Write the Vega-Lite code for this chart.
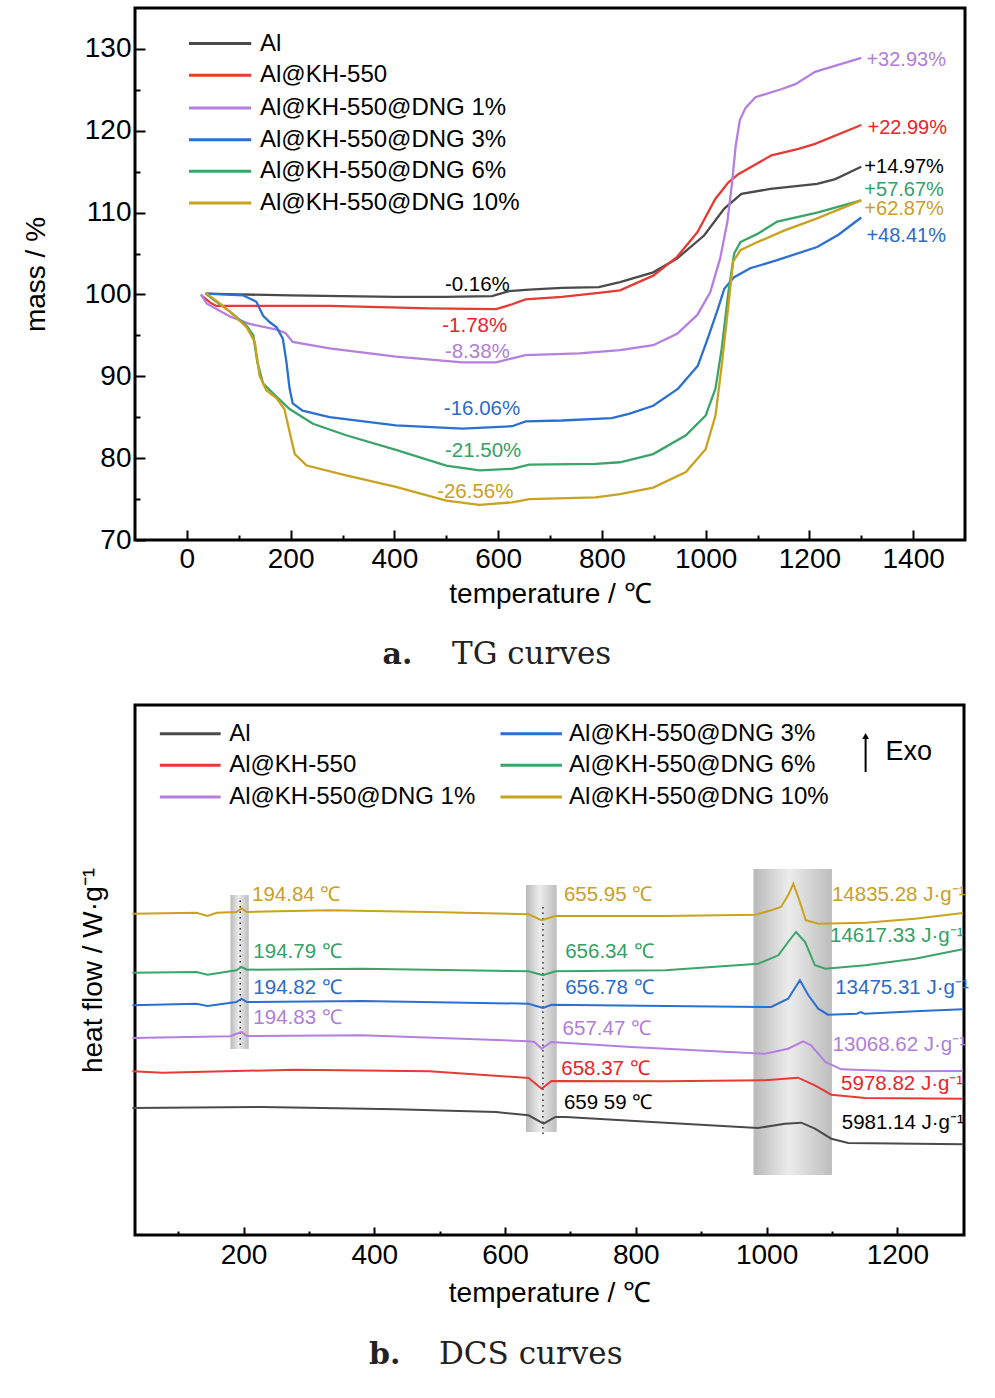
{
"$schema": "https://vega.github.io/schema/vega-lite/v6.json",
"autosize": {"type": "pad"},
"padding": {"left": 20, "top": 6, "right": 0, "bottom": 0},
"spacing": 165,
"bounds": "flush",
"config": {
  "view": {"stroke": "#000000", "strokeWidth": 3},
  "font": "Liberation Sans",
  "axis": {"domain": false, "grid": false, "tickColor": "#000000", "tickWidth": 2, "labelColor": "#000000", "titleColor": "#000000", "labelFont": "Liberation Sans", "titleFont": "Liberation Sans", "labelFontSize": 28, "titleFontSize": 28, "titleFontWeight": "normal", "labelOverlap": false, "labelFlush": false, "format": "d"}
},
"datasets": {
  "tg": [
    {"s":"Al","t":36,"m":100.1},{"s":"Al","t":100,"m":100.0},{"s":"Al","t":200,"m":99.9},{"s":"Al","t":300,"m":99.8},{"s":"Al","t":400,"m":99.7},{"s":"Al","t":500,"m":99.7},{"s":"Al","t":588,"m":99.8},{"s":"Al","t":621,"m":100.4},{"s":"Al","t":660,"m":100.6},{"s":"Al","t":723,"m":100.8},{"s":"Al","t":794,"m":100.9},{"s":"Al","t":835,"m":101.5},{"s":"Al","t":899,"m":102.7},{"s":"Al","t":945,"m":104.4},{"s":"Al","t":997,"m":107.2},{"s":"Al","t":1036,"m":110.5},{"s":"Al","t":1069,"m":112.3},{"s":"Al","t":1125,"m":112.9},{"s":"Al","t":1215,"m":113.5},{"s":"Al","t":1250,"m":114.1},{"s":"Al","t":1300,"m":115.6},
    {"s":"Al@KH-550","t":28,"m":99.9},{"s":"Al@KH-550","t":45,"m":99.0},{"s":"Al@KH-550","t":57,"m":98.6},{"s":"Al@KH-550","t":150,"m":98.6},{"s":"Al@KH-550","t":275,"m":98.6},{"s":"Al@KH-550","t":467,"m":98.3},{"s":"Al@KH-550","t":596,"m":98.2},{"s":"Al@KH-550","t":627,"m":98.8},{"s":"Al@KH-550","t":653,"m":99.4},{"s":"Al@KH-550","t":723,"m":99.7},{"s":"Al@KH-550","t":794,"m":100.2},{"s":"Al@KH-550","t":835,"m":100.5},{"s":"Al@KH-550","t":899,"m":102.3},{"s":"Al@KH-550","t":945,"m":104.6},{"s":"Al@KH-550","t":984,"m":107.6},{"s":"Al@KH-550","t":1019,"m":111.7},{"s":"Al@KH-550","t":1044,"m":113.7},{"s":"Al@KH-550","t":1063,"m":114.7},{"s":"Al@KH-550","t":1127,"m":117.0},{"s":"Al@KH-550","t":1179,"m":117.8},{"s":"Al@KH-550","t":1211,"m":118.4},{"s":"Al@KH-550","t":1300,"m":120.7},
    {"s":"Al@KH-550@DNG 1%","t":27,"m":100.0},{"s":"Al@KH-550@DNG 1%","t":38,"m":98.9},{"s":"Al@KH-550@DNG 1%","t":83,"m":97.3},{"s":"Al@KH-550@DNG 1%","t":121,"m":96.4},{"s":"Al@KH-550@DNG 1%","t":173,"m":95.7},{"s":"Al@KH-550@DNG 1%","t":190,"m":95.3},{"s":"Al@KH-550@DNG 1%","t":204,"m":94.2},{"s":"Al@KH-550@DNG 1%","t":275,"m":93.4},{"s":"Al@KH-550@DNG 1%","t":403,"m":92.4},{"s":"Al@KH-550@DNG 1%","t":531,"m":91.7},{"s":"Al@KH-550@DNG 1%","t":596,"m":91.7},{"s":"Al@KH-550@DNG 1%","t":627,"m":92.2},{"s":"Al@KH-550@DNG 1%","t":653,"m":92.6},{"s":"Al@KH-550@DNG 1%","t":756,"m":92.8},{"s":"Al@KH-550@DNG 1%","t":835,"m":93.2},{"s":"Al@KH-550@DNG 1%","t":899,"m":93.8},{"s":"Al@KH-550@DNG 1%","t":945,"m":95.2},{"s":"Al@KH-550@DNG 1%","t":984,"m":97.5},{"s":"Al@KH-550@DNG 1%","t":1009,"m":100.3},{"s":"Al@KH-550@DNG 1%","t":1028,"m":104.4},{"s":"Al@KH-550@DNG 1%","t":1042,"m":108.9},{"s":"Al@KH-550@DNG 1%","t":1051,"m":113.7},{"s":"Al@KH-550@DNG 1%","t":1058,"m":118.2},{"s":"Al@KH-550@DNG 1%","t":1066,"m":121.3},{"s":"Al@KH-550@DNG 1%","t":1077,"m":122.8},{"s":"Al@KH-550@DNG 1%","t":1096,"m":124.1},{"s":"Al@KH-550@DNG 1%","t":1147,"m":125.1},{"s":"Al@KH-550@DNG 1%","t":1173,"m":125.7},{"s":"Al@KH-550@DNG 1%","t":1211,"m":127.2},{"s":"Al@KH-550@DNG 1%","t":1300,"m":128.9},
    {"s":"Al@KH-550@DNG 3%","t":36,"m":100.1},{"s":"Al@KH-550@DNG 3%","t":108,"m":99.9},{"s":"Al@KH-550@DNG 3%","t":134,"m":99.1},{"s":"Al@KH-550@DNG 3%","t":147,"m":97.4},{"s":"Al@KH-550@DNG 3%","t":160,"m":96.6},{"s":"Al@KH-550@DNG 3%","t":173,"m":96.0},{"s":"Al@KH-550@DNG 3%","t":185,"m":94.6},{"s":"Al@KH-550@DNG 3%","t":192,"m":91.7},{"s":"Al@KH-550@DNG 3%","t":198,"m":88.5},{"s":"Al@KH-550@DNG 3%","t":204,"m":86.7},{"s":"Al@KH-550@DNG 3%","t":223,"m":85.8},{"s":"Al@KH-550@DNG 3%","t":275,"m":85.0},{"s":"Al@KH-550@DNG 3%","t":403,"m":84.0},{"s":"Al@KH-550@DNG 3%","t":531,"m":83.6},{"s":"Al@KH-550@DNG 3%","t":627,"m":83.9},{"s":"Al@KH-550@DNG 3%","t":653,"m":84.5},{"s":"Al@KH-550@DNG 3%","t":723,"m":84.6},{"s":"Al@KH-550@DNG 3%","t":819,"m":84.9},{"s":"Al@KH-550@DNG 3%","t":852,"m":85.4},{"s":"Al@KH-550@DNG 3%","t":899,"m":86.4},{"s":"Al@KH-550@DNG 3%","t":947,"m":88.5},{"s":"Al@KH-550@DNG 3%","t":985,"m":91.3},{"s":"Al@KH-550@DNG 3%","t":1004,"m":94.6},{"s":"Al@KH-550@DNG 3%","t":1024,"m":98.3},{"s":"Al@KH-550@DNG 3%","t":1036,"m":100.7},{"s":"Al@KH-550@DNG 3%","t":1055,"m":102.1},{"s":"Al@KH-550@DNG 3%","t":1086,"m":103.2},{"s":"Al@KH-550@DNG 3%","t":1138,"m":104.2},{"s":"Al@KH-550@DNG 3%","t":1215,"m":105.8},{"s":"Al@KH-550@DNG 3%","t":1256,"m":107.3},{"s":"Al@KH-550@DNG 3%","t":1300,"m":109.4},
    {"s":"Al@KH-550@DNG 6%","t":36,"m":100.1},{"s":"Al@KH-550@DNG 6%","t":57,"m":99.1},{"s":"Al@KH-550@DNG 6%","t":83,"m":97.9},{"s":"Al@KH-550@DNG 6%","t":115,"m":96.2},{"s":"Al@KH-550@DNG 6%","t":128,"m":95.0},{"s":"Al@KH-550@DNG 6%","t":136,"m":91.7},{"s":"Al@KH-550@DNG 6%","t":147,"m":89.1},{"s":"Al@KH-550@DNG 6%","t":173,"m":87.5},{"s":"Al@KH-550@DNG 6%","t":198,"m":86.0},{"s":"Al@KH-550@DNG 6%","t":243,"m":84.2},{"s":"Al@KH-550@DNG 6%","t":307,"m":82.8},{"s":"Al@KH-550@DNG 6%","t":403,"m":81.0},{"s":"Al@KH-550@DNG 6%","t":500,"m":79.1},{"s":"Al@KH-550@DNG 6%","t":564,"m":78.5},{"s":"Al@KH-550@DNG 6%","t":627,"m":78.7},{"s":"Al@KH-550@DNG 6%","t":660,"m":79.2},{"s":"Al@KH-550@DNG 6%","t":788,"m":79.3},{"s":"Al@KH-550@DNG 6%","t":835,"m":79.5},{"s":"Al@KH-550@DNG 6%","t":899,"m":80.5},{"s":"Al@KH-550@DNG 6%","t":962,"m":82.8},{"s":"Al@KH-550@DNG 6%","t":1000,"m":85.2},{"s":"Al@KH-550@DNG 6%","t":1019,"m":88.5},{"s":"Al@KH-550@DNG 6%","t":1031,"m":93.4},{"s":"Al@KH-550@DNG 6%","t":1044,"m":100.3},{"s":"Al@KH-550@DNG 6%","t":1055,"m":105.0},{"s":"Al@KH-550@DNG 6%","t":1067,"m":106.4},{"s":"Al@KH-550@DNG 6%","t":1100,"m":107.4},{"s":"Al@KH-550@DNG 6%","t":1138,"m":108.9},{"s":"Al@KH-550@DNG 6%","t":1215,"m":110.0},{"s":"Al@KH-550@DNG 6%","t":1300,"m":111.5},
    {"s":"Al@KH-550@DNG 10%","t":36,"m":100.2},{"s":"Al@KH-550@DNG 10%","t":57,"m":99.2},{"s":"Al@KH-550@DNG 10%","t":83,"m":97.9},{"s":"Al@KH-550@DNG 10%","t":115,"m":96.0},{"s":"Al@KH-550@DNG 10%","t":131,"m":94.2},{"s":"Al@KH-550@DNG 10%","t":140,"m":90.1},{"s":"Al@KH-550@DNG 10%","t":153,"m":88.3},{"s":"Al@KH-550@DNG 10%","t":173,"m":87.3},{"s":"Al@KH-550@DNG 10%","t":188,"m":86.0},{"s":"Al@KH-550@DNG 10%","t":198,"m":83.2},{"s":"Al@KH-550@DNG 10%","t":208,"m":80.5},{"s":"Al@KH-550@DNG 10%","t":231,"m":79.1},{"s":"Al@KH-550@DNG 10%","t":307,"m":77.9},{"s":"Al@KH-550@DNG 10%","t":403,"m":76.5},{"s":"Al@KH-550@DNG 10%","t":500,"m":74.8},{"s":"Al@KH-550@DNG 10%","t":564,"m":74.3},{"s":"Al@KH-550@DNG 10%","t":627,"m":74.6},{"s":"Al@KH-550@DNG 10%","t":660,"m":75.0},{"s":"Al@KH-550@DNG 10%","t":788,"m":75.2},{"s":"Al@KH-550@DNG 10%","t":835,"m":75.6},{"s":"Al@KH-550@DNG 10%","t":899,"m":76.4},{"s":"Al@KH-550@DNG 10%","t":962,"m":78.3},{"s":"Al@KH-550@DNG 10%","t":1000,"m":81.1},{"s":"Al@KH-550@DNG 10%","t":1019,"m":85.2},{"s":"Al@KH-550@DNG 10%","t":1031,"m":91.3},{"s":"Al@KH-550@DNG 10%","t":1044,"m":98.7},{"s":"Al@KH-550@DNG 10%","t":1053,"m":104.0},{"s":"Al@KH-550@DNG 10%","t":1067,"m":105.4},{"s":"Al@KH-550@DNG 10%","t":1100,"m":106.4},{"s":"Al@KH-550@DNG 10%","t":1151,"m":107.8},{"s":"Al@KH-550@DNG 10%","t":1215,"m":109.3},{"s":"Al@KH-550@DNG 10%","t":1300,"m":111.5}
  ],
  "tgLeg": [
    {"s":"Al","t1":4,"t2":124,"tx":141,"m":130.65},
    {"s":"Al@KH-550","t1":4,"t2":124,"tx":141,"m":126.78},
    {"s":"Al@KH-550@DNG 1%","t1":4,"t2":124,"tx":141,"m":122.79},
    {"s":"Al@KH-550@DNG 3%","t1":4,"t2":124,"tx":141,"m":118.9},
    {"s":"Al@KH-550@DNG 6%","t1":4,"t2":124,"tx":141,"m":115.05},
    {"s":"Al@KH-550@DNG 10%","t1":4,"t2":124,"tx":141,"m":111.17}
  ],
  "tgLab": [
    {"s":"Al","label":"-0.16%","pos":"mid","t":560,"m":101.1},
    {"s":"Al@KH-550","label":"-1.78%","pos":"mid","t":555,"m":96.2},
    {"s":"Al@KH-550@DNG 1%","label":"-8.38%","pos":"mid","t":560,"m":93.0},
    {"s":"Al@KH-550@DNG 3%","label":"-16.06%","pos":"mid","t":569,"m":86.0},
    {"s":"Al@KH-550@DNG 6%","label":"-21.50%","pos":"mid","t":571,"m":80.9},
    {"s":"Al@KH-550@DNG 10%","label":"-26.56%","pos":"mid","t":556,"m":75.9},
    {"s":"Al@KH-550@DNG 1%","label":"+32.93%","pos":"end","t":1310,"m":128.6},
    {"s":"Al@KH-550","label":"+22.99%","pos":"end","t":1312,"m":120.3},
    {"s":"Al","label":"+14.97%","pos":"end","t":1306,"m":115.6},
    {"s":"Al@KH-550@DNG 6%","label":"+57.67%","pos":"end","t":1306,"m":112.8},
    {"s":"Al@KH-550@DNG 10%","label":"+62.87%","pos":"end","t":1306,"m":110.4},
    {"s":"Al@KH-550@DNG 3%","label":"+48.41%","pos":"end","t":1310,"m":107.2}
  ],
  "capA": [
    {"label":"a.","kind":"tag","t":406,"m":55.9},
    {"label":"TG curves","kind":"name","t":511,"m":55.9}
  ],
  "dsc": [
    {"s":"Al@KH-550@DNG 10%","t":30,"h":321.3},{"s":"Al@KH-550@DNG 10%","t":128,"h":322.3},{"s":"Al@KH-550@DNG 10%","t":145,"h":319},{"s":"Al@KH-550@DNG 10%","t":159,"h":322.3},{"s":"Al@KH-550@DNG 10%","t":189,"h":323},{"s":"Al@KH-550@DNG 10%","t":197,"h":326.5},{"s":"Al@KH-550@DNG 10%","t":205,"h":323},{"s":"Al@KH-550@DNG 10%","t":331,"h":324.7},{"s":"Al@KH-550@DNG 10%","t":484,"h":323},{"s":"Al@KH-550@DNG 10%","t":636,"h":320.7},{"s":"Al@KH-550@DNG 10%","t":656,"h":314.7},{"s":"Al@KH-550@DNG 10%","t":677,"h":319},{"s":"Al@KH-550@DNG 10%","t":845,"h":319},{"s":"Al@KH-550@DNG 10%","t":983,"h":320.3},{"s":"Al@KH-550@DNG 10%","t":1007,"h":324.7},{"s":"Al@KH-550@DNG 10%","t":1022,"h":328},{"s":"Al@KH-550@DNG 10%","t":1033,"h":339.7},{"s":"Al@KH-550@DNG 10%","t":1041,"h":351.3},{"s":"Al@KH-550@DNG 10%","t":1051,"h":333},{"s":"Al@KH-550@DNG 10%","t":1060,"h":314.7},{"s":"Al@KH-550@DNG 10%","t":1079,"h":311.3},{"s":"Al@KH-550@DNG 10%","t":1151,"h":312.3},{"s":"Al@KH-550@DNG 10%","t":1227,"h":316.3},{"s":"Al@KH-550@DNG 10%","t":1300,"h":322},
    {"s":"Al@KH-550@DNG 6%","t":30,"h":262.3},{"s":"Al@KH-550@DNG 6%","t":128,"h":263},{"s":"Al@KH-550@DNG 6%","t":145,"h":260.3},{"s":"Al@KH-550@DNG 6%","t":189,"h":264.7},{"s":"Al@KH-550@DNG 6%","t":197,"h":268},{"s":"Al@KH-550@DNG 6%","t":205,"h":265.3},{"s":"Al@KH-550@DNG 6%","t":381,"h":266.3},{"s":"Al@KH-550@DNG 6%","t":636,"h":263.7},{"s":"Al@KH-550@DNG 6%","t":658,"h":259.7},{"s":"Al@KH-550@DNG 6%","t":677,"h":263.7},{"s":"Al@KH-550@DNG 6%","t":845,"h":264.7},{"s":"Al@KH-550@DNG 6%","t":987,"h":271.3},{"s":"Al@KH-550@DNG 6%","t":1018,"h":279.7},{"s":"Al@KH-550@DNG 6%","t":1033,"h":293},{"s":"Al@KH-550@DNG 6%","t":1045,"h":303},{"s":"Al@KH-550@DNG 6%","t":1059,"h":293},{"s":"Al@KH-550@DNG 6%","t":1074,"h":269.7},{"s":"Al@KH-550@DNG 6%","t":1090,"h":266.3},{"s":"Al@KH-550@DNG 6%","t":1151,"h":269.7},{"s":"Al@KH-550@DNG 6%","t":1227,"h":276.3},{"s":"Al@KH-550@DNG 6%","t":1300,"h":285.7},
    {"s":"Al@KH-550@DNG 3%","t":30,"h":229.7},{"s":"Al@KH-550@DNG 3%","t":128,"h":231.3},{"s":"Al@KH-550@DNG 3%","t":145,"h":229},{"s":"Al@KH-550@DNG 3%","t":189,"h":233},{"s":"Al@KH-550@DNG 3%","t":197,"h":236.3},{"s":"Al@KH-550@DNG 3%","t":205,"h":233},{"s":"Al@KH-550@DNG 3%","t":381,"h":234},{"s":"Al@KH-550@DNG 3%","t":636,"h":231.3},{"s":"Al@KH-550@DNG 3%","t":658,"h":227},{"s":"Al@KH-550@DNG 3%","t":671,"h":230.3},{"s":"Al@KH-550@DNG 3%","t":845,"h":229},{"s":"Al@KH-550@DNG 3%","t":1007,"h":228},{"s":"Al@KH-550@DNG 3%","t":1033,"h":236.3},{"s":"Al@KH-550@DNG 3%","t":1051,"h":254.7},{"s":"Al@KH-550@DNG 3%","t":1064,"h":239.7},{"s":"Al@KH-550@DNG 3%","t":1079,"h":226.3},{"s":"Al@KH-550@DNG 3%","t":1094,"h":220.3},{"s":"Al@KH-550@DNG 3%","t":1138,"h":221.3},{"s":"Al@KH-550@DNG 3%","t":1144,"h":223},{"s":"Al@KH-550@DNG 3%","t":1150,"h":221.3},{"s":"Al@KH-550@DNG 3%","t":1227,"h":223.7},{"s":"Al@KH-550@DNG 3%","t":1300,"h":225.7},
    {"s":"Al@KH-550@DNG 1%","t":30,"h":197},{"s":"Al@KH-550@DNG 1%","t":179,"h":198.7},{"s":"Al@KH-550@DNG 1%","t":197,"h":203},{"s":"Al@KH-550@DNG 1%","t":205,"h":199},{"s":"Al@KH-550@DNG 1%","t":381,"h":199.7},{"s":"Al@KH-550@DNG 1%","t":534,"h":196.3},{"s":"Al@KH-550@DNG 1%","t":636,"h":193.7},{"s":"Al@KH-550@DNG 1%","t":645,"h":193},{"s":"Al@KH-550@DNG 1%","t":656,"h":186.3},{"s":"Al@KH-550@DNG 1%","t":671,"h":193},{"s":"Al@KH-550@DNG 1%","t":793,"h":188},{"s":"Al@KH-550@DNG 1%","t":998,"h":181.3},{"s":"Al@KH-550@DNG 1%","t":1033,"h":186.3},{"s":"Al@KH-550@DNG 1%","t":1056,"h":193.7},{"s":"Al@KH-550@DNG 1%","t":1068,"h":189.7},{"s":"Al@KH-550@DNG 1%","t":1090,"h":173},{"s":"Al@KH-550@DNG 1%","t":1114,"h":165.7},{"s":"Al@KH-550@DNG 1%","t":1201,"h":163.7},{"s":"Al@KH-550@DNG 1%","t":1300,"h":164},
    {"s":"Al@KH-550","t":30,"h":163.7},{"s":"Al@KH-550","t":76,"h":162.3},{"s":"Al@KH-550","t":281,"h":165.3},{"s":"Al@KH-550","t":484,"h":163.7},{"s":"Al@KH-550","t":636,"h":157},{"s":"Al@KH-550","t":656,"h":146.3},{"s":"Al@KH-550","t":671,"h":154},{"s":"Al@KH-550","t":845,"h":153.7},{"s":"Al@KH-550","t":998,"h":154.7},{"s":"Al@KH-550","t":1048,"h":157.3},{"s":"Al@KH-550","t":1074,"h":149.7},{"s":"Al@KH-550","t":1099,"h":140.3},{"s":"Al@KH-550","t":1151,"h":137},{"s":"Al@KH-550","t":1300,"h":136.3},
    {"s":"Al","t":30,"h":127},{"s":"Al","t":229,"h":128},{"s":"Al","t":433,"h":125.7},{"s":"Al","t":586,"h":123},{"s":"Al","t":636,"h":119.7},{"s":"Al","t":659,"h":111.3},{"s":"Al","t":677,"h":118},{"s":"Al","t":693,"h":118},{"s":"Al","t":845,"h":112.3},{"s":"Al","t":987,"h":107},{"s":"Al","t":1028,"h":111.3},{"s":"Al","t":1053,"h":112.3},{"s":"Al","t":1074,"h":106.3},{"s":"Al","t":1099,"h":96.3},{"s":"Al","t":1125,"h":92},{"s":"Al","t":1300,"h":90.7}
  ],
  "bands": [
    {"t1":180,"t2":208,"h1":186,"h2":340},
    {"t1":632,"t2":679,"h1":103,"h2":350},
    {"t1":980,"t2":1100,"h1":60,"h2":366}
  ],
  "dots": [
    {"t":195,"h1":190,"h2":336},
    {"t":658,"h1":101,"h2":328}
  ],
  "dscLab": [
    {"s":"Al@KH-550@DNG 10%","label":"194.84 ℃","t":213,"h":340.3},
    {"s":"Al@KH-550@DNG 6%","label":"194.79 ℃","t":215,"h":283},
    {"s":"Al@KH-550@DNG 3%","label":"194.82 ℃","t":215,"h":247.3},
    {"s":"Al@KH-550@DNG 1%","label":"194.83 ℃","t":215,"h":217},
    {"s":"Al@KH-550@DNG 10%","label":"655.95 ℃","t":690,"h":340.3},
    {"s":"Al@KH-550@DNG 6%","label":"656.34 ℃","t":692,"h":283},
    {"s":"Al@KH-550@DNG 3%","label":"656.78 ℃","t":692,"h":247},
    {"s":"Al@KH-550@DNG 1%","label":"657.47 ℃","t":688,"h":206.3},
    {"s":"Al@KH-550","label":"658.37 ℃","t":686,"h":165.7},
    {"s":"Al","label":"659 59 ℃","t":690,"h":132.3},
    {"s":"Al@KH-550@DNG 10%","label":"14835.28 J·g⁻¹","t":1100,"h":340.3},
    {"s":"Al@KH-550@DNG 6%","label":"14617.33 J·g⁻¹","t":1097,"h":299},
    {"s":"Al@KH-550@DNG 3%","label":"13475.31 J·g⁻¹","t":1105,"h":247},
    {"s":"Al@KH-550@DNG 1%","label":"13068.62 J·g⁻¹","t":1101,"h":190.3},
    {"s":"Al@KH-550","label":"5978.82 J·g⁻¹","t":1114,"h":151.3},
    {"s":"Al","label":"5981.14 J·g⁻¹","t":1115,"h":112.3}
  ],
  "dscLeg": [
    {"s":"Al","t1":72,"t2":165,"tx":178,"h":501.3},
    {"s":"Al@KH-550","t1":72,"t2":165,"tx":178,"h":469.7},
    {"s":"Al@KH-550@DNG 1%","t1":72,"t2":165,"tx":178,"h":438},
    {"s":"Al@KH-550@DNG 3%","t1":593,"t2":687,"tx":698,"h":501.3},
    {"s":"Al@KH-550@DNG 6%","t1":593,"t2":687,"tx":698,"h":469.7},
    {"s":"Al@KH-550@DNG 10%","t1":593,"t2":687,"tx":698,"h":438}
  ],
  "exo": [
    {"label":"Exo","t":1151.5,"h1":463,"h2":499,"tx":1182,"hx":483}
  ],
  "capB": [
    {"label":"b.","kind":"tag","t":416,"h":-120},
    {"label":"DCS curves","kind":"name","t":499,"h":-120}
  ]
},
"vconcat": [
  {
    "width": 830,
    "height": 532,
    "resolve": {"scale": {"color": "independent"}},
    "layer": [
      {
        "data": {"name": "tg"},
        "mark": {"type": "line", "strokeWidth": 2.3},
        "encoding": {
          "x": {"field": "t", "type": "quantitative", "scale": {"domain": [-100, 1500], "nice": false, "zero": false},
                "axis": {"title": "temperature / ℃", "values": [0,100,200,300,400,500,600,700,800,900,1000,1100,1200,1300,1400],
                         "labelExpr": "datum.value % 200 === 0 ? datum.label : ''",
                         "tickSize": {"condition": {"test": "datum.value % 200 === 0", "value": -10}, "value": -5},
                         "labelPadding": 15, "titlePadding": 2}},
          "y": {"field": "m", "type": "quantitative", "scale": {"domain": [70, 135], "nice": false, "zero": false},
                "axis": {"title": "mass / %", "values": [70,75,80,85,90,95,100,105,110,115,120,125,130],
                         "labelExpr": "datum.value % 10 === 0 ? datum.label : ''",
                         "tickSize": {"condition": {"test": "datum.value % 10 === 0", "value": -10}, "value": -5},
                         "labelPadding": 14, "titlePadding": 34}},
          "color": {"field": "s", "type": "nominal", "legend": null,
                    "scale": {"domain": ["Al","Al@KH-550","Al@KH-550@DNG 1%","Al@KH-550@DNG 3%","Al@KH-550@DNG 6%","Al@KH-550@DNG 10%"],
                              "range": ["#4a4a4a","#e43b36","#b47fdf","#2a70d0","#3aa46a","#c9a21f"]}}
        }
      },
      {
        "data": {"name": "tgLeg"},
        "mark": {"type": "rule", "strokeWidth": 3},
        "encoding": {
          "x": {"field": "t1", "type": "quantitative"},
          "x2": {"field": "t2"},
          "y": {"field": "m", "type": "quantitative"},
          "color": {"field": "s", "type": "nominal", "legend": null,
                    "scale": {"domain": ["Al","Al@KH-550","Al@KH-550@DNG 1%","Al@KH-550@DNG 3%","Al@KH-550@DNG 6%","Al@KH-550@DNG 10%"],
                              "range": ["#4a4a4a","#e43b36","#b47fdf","#2a70d0","#3aa46a","#c9a21f"]}}
        }
      },
      {
        "data": {"name": "tgLeg"},
        "mark": {"type": "text", "align": "left", "baseline": "middle", "fontSize": 24, "color": "#000000"},
        "encoding": {
          "x": {"field": "tx", "type": "quantitative"},
          "y": {"field": "m", "type": "quantitative"},
          "text": {"field": "s"}
        }
      },
      {
        "data": {"name": "tgLab"},
        "transform": [{"filter": "datum.pos === 'mid'"}],
        "mark": {"type": "text", "align": "center", "baseline": "middle", "fontSize": 20.5},
        "encoding": {
          "x": {"field": "t", "type": "quantitative"},
          "y": {"field": "m", "type": "quantitative"},
          "text": {"field": "label"},
          "color": {"field": "s", "type": "nominal", "legend": null,
                    "scale": {"domain": ["Al","Al@KH-550","Al@KH-550@DNG 1%","Al@KH-550@DNG 3%","Al@KH-550@DNG 6%","Al@KH-550@DNG 10%"],
                              "range": ["#000000","#e8242a","#b07ed9","#2a6cc9","#35a067","#c9a024"]}}
        }
      },
      {
        "data": {"name": "tgLab"},
        "transform": [{"filter": "datum.pos === 'end'"}],
        "mark": {"type": "text", "align": "left", "baseline": "middle", "fontSize": 20},
        "encoding": {
          "x": {"field": "t", "type": "quantitative"},
          "y": {"field": "m", "type": "quantitative"},
          "text": {"field": "label"},
          "color": {"field": "s", "type": "nominal", "legend": null,
                    "scale": {"domain": ["Al","Al@KH-550","Al@KH-550@DNG 1%","Al@KH-550@DNG 3%","Al@KH-550@DNG 6%","Al@KH-550@DNG 10%"],
                              "range": ["#000000","#e8242a","#b07ed9","#2a6cc9","#35a067","#c9a024"]}}
        }
      },
      {
        "data": {"name": "capA"},
        "transform": [{"filter": "datum.kind === 'tag'"}],
        "mark": {"type": "text", "align": "center", "baseline": "middle", "fontSize": 30, "font": "DejaVu Serif", "fontWeight": "bold", "color": "#222222"},
        "encoding": {
          "x": {"field": "t", "type": "quantitative"},
          "y": {"field": "m", "type": "quantitative"},
          "text": {"field": "label"}
        }
      },
      {
        "data": {"name": "capA"},
        "transform": [{"filter": "datum.kind === 'name'"}],
        "mark": {"type": "text", "align": "left", "baseline": "middle", "fontSize": 31, "font": "DejaVu Serif", "color": "#222222"},
        "encoding": {
          "x": {"field": "t", "type": "quantitative"},
          "y": {"field": "m", "type": "quantitative"},
          "text": {"field": "label"}
        }
      }
    ]
  },
  {
    "width": 829,
    "height": 530,
    "resolve": {"scale": {"color": "independent"}},
    "layer": [
      {
        "data": {"name": "bands"},
        "mark": {"type": "rect", "fill": {"gradient": "linear", "x1": 0, "y1": 0, "x2": 1, "y2": 0,
                  "stops": [{"offset": 0, "color": "#b9b9b9"}, {"offset": 0.45, "color": "#ececec"}, {"offset": 1, "color": "#bdbdbd"}]}},
        "encoding": {
          "x": {"field": "t1", "type": "quantitative", "scale": {"domain": [34, 1302], "nice": false, "zero": false},
                "axis": {"title": "temperature / ℃", "values": [100,200,300,400,500,600,700,800,900,1000,1100,1200],
                         "labelExpr": "datum.value % 200 === 0 ? datum.label : ''",
                         "tickSize": {"condition": {"test": "datum.value % 200 === 0", "value": -8}, "value": -4},
                         "labelPadding": 14, "titlePadding": 6}},
          "x2": {"field": "t2"},
          "y": {"field": "h1", "type": "quantitative", "scale": {"domain": [0, 530], "nice": false, "zero": false},
                "axis": {"title": "heat flow / W·g⁻¹", "labels": false, "ticks": false, "titlePadding": 28}},
          "y2": {"field": "h2"}
        }
      },
      {
        "data": {"name": "dots"},
        "mark": {"type": "rule", "strokeWidth": 1.5, "strokeDash": [1.5, 4], "color": "#333333"},
        "encoding": {
          "x": {"field": "t", "type": "quantitative"},
          "y": {"field": "h1", "type": "quantitative"},
          "y2": {"field": "h2"}
        }
      },
      {
        "data": {"name": "dsc"},
        "mark": {"type": "line", "strokeWidth": 2},
        "encoding": {
          "x": {"field": "t", "type": "quantitative"},
          "y": {"field": "h", "type": "quantitative"},
          "color": {"field": "s", "type": "nominal", "legend": null,
                    "scale": {"domain": ["Al","Al@KH-550","Al@KH-550@DNG 1%","Al@KH-550@DNG 3%","Al@KH-550@DNG 6%","Al@KH-550@DNG 10%"],
                              "range": ["#4a4a4a","#e43b36","#b47fdf","#2a70d0","#3aa46a","#c9a21f"]}}
        }
      },
      {
        "data": {"name": "dscLab"},
        "mark": {"type": "text", "align": "left", "baseline": "middle", "fontSize": 20.5},
        "encoding": {
          "x": {"field": "t", "type": "quantitative"},
          "y": {"field": "h", "type": "quantitative"},
          "text": {"field": "label"},
          "color": {"field": "s", "type": "nominal", "legend": null,
                    "scale": {"domain": ["Al","Al@KH-550","Al@KH-550@DNG 1%","Al@KH-550@DNG 3%","Al@KH-550@DNG 6%","Al@KH-550@DNG 10%"],
                              "range": ["#000000","#e8242a","#b07ed9","#2a6cc9","#35a067","#c9a024"]}}
        }
      },
      {
        "data": {"name": "dscLeg"},
        "mark": {"type": "rule", "strokeWidth": 3},
        "encoding": {
          "x": {"field": "t1", "type": "quantitative"},
          "x2": {"field": "t2"},
          "y": {"field": "h", "type": "quantitative"},
          "color": {"field": "s", "type": "nominal", "legend": null,
                    "scale": {"domain": ["Al","Al@KH-550","Al@KH-550@DNG 1%","Al@KH-550@DNG 3%","Al@KH-550@DNG 6%","Al@KH-550@DNG 10%"],
                              "range": ["#4a4a4a","#e43b36","#b47fdf","#2a70d0","#3aa46a","#c9a21f"]}}
        }
      },
      {
        "data": {"name": "dscLeg"},
        "mark": {"type": "text", "align": "left", "baseline": "middle", "fontSize": 24, "color": "#000000"},
        "encoding": {
          "x": {"field": "tx", "type": "quantitative"},
          "y": {"field": "h", "type": "quantitative"},
          "text": {"field": "s"}
        }
      },
      {
        "data": {"name": "exo"},
        "mark": {"type": "rule", "strokeWidth": 2, "color": "#000000"},
        "encoding": {
          "x": {"field": "t", "type": "quantitative"},
          "y": {"field": "h1", "type": "quantitative"},
          "y2": {"field": "h2"}
        }
      },
      {
        "data": {"name": "exo"},
        "mark": {"type": "point", "shape": "triangle-up", "filled": true, "size": 45, "color": "#000000", "opacity": 1},
        "encoding": {
          "x": {"field": "t", "type": "quantitative"},
          "y": {"field": "h2", "type": "quantitative"}
        }
      },
      {
        "data": {"name": "exo"},
        "mark": {"type": "text", "align": "left", "baseline": "middle", "fontSize": 27, "color": "#000000"},
        "encoding": {
          "x": {"field": "tx", "type": "quantitative"},
          "y": {"field": "hx", "type": "quantitative"},
          "text": {"field": "label"}
        }
      },
      {
        "data": {"name": "capB"},
        "transform": [{"filter": "datum.kind === 'tag'"}],
        "mark": {"type": "text", "align": "center", "baseline": "middle", "fontSize": 30, "font": "DejaVu Serif", "fontWeight": "bold", "color": "#222222"},
        "encoding": {
          "x": {"field": "t", "type": "quantitative"},
          "y": {"field": "h", "type": "quantitative"},
          "text": {"field": "label"}
        }
      },
      {
        "data": {"name": "capB"},
        "transform": [{"filter": "datum.kind === 'name'"}],
        "mark": {"type": "text", "align": "left", "baseline": "middle", "fontSize": 31, "font": "DejaVu Serif", "color": "#222222"},
        "encoding": {
          "x": {"field": "t", "type": "quantitative"},
          "y": {"field": "h", "type": "quantitative"},
          "text": {"field": "label"}
        }
      }
    ]
  }
]
}
